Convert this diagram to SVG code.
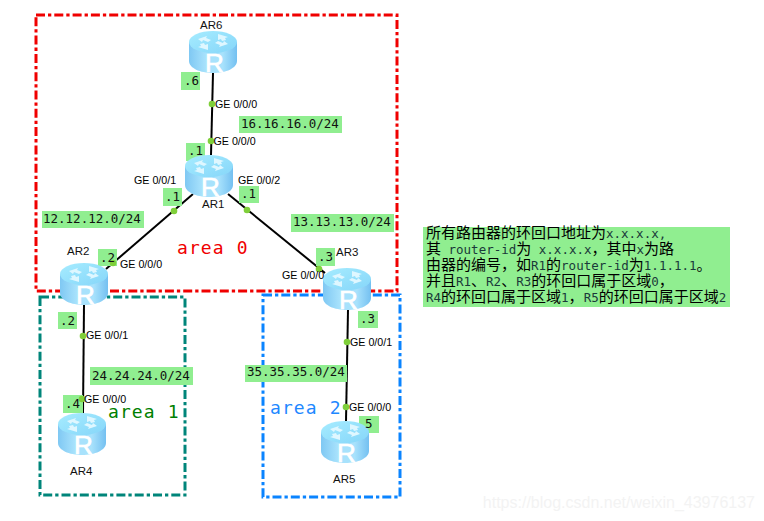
<svg xmlns="http://www.w3.org/2000/svg" width="764" height="521" viewBox="0 0 764 521">
<style>
.zone{fill:none;stroke-width:3;stroke-dasharray:9 3 3.300 3}
.link{stroke:#000;stroke-width:2;fill:none}
.dot{fill:#7fcf3a}
.tag{fill:#90ee90}
.ip{font:12.500px "DejaVu Sans Mono",monospace;fill:#111}
.port{font:10.700px "Liberation Sans",Arial,sans-serif;fill:#000}
.name{font:11.500px "Liberation Sans",Arial,sans-serif;fill:#111}
.r{font:26px "Liberation Sans",Arial,sans-serif;fill:#fff;stroke:#fff;stroke-width:.7;text-anchor:middle}
.area{font:18px "DejaVu Sans Mono",monospace;letter-spacing:1.100px}
.note{font:15px "Noto Sans CJK SC",sans-serif;fill:#000}
.note tspan{font:12.500px "DejaVu Sans Mono",monospace;fill:#1a3a3a;white-space:pre}
.wm{font:16px "Liberation Sans",Arial,sans-serif;fill:#f3f3f3;text-anchor:end}
</style>
<defs>
<linearGradient id="side" x1="0" x2="1" y1="0" y2="0">
<stop offset="0" stop-color="#7fc8f3"/><stop offset=".35" stop-color="#a8e2fc"/><stop offset=".7" stop-color="#a8e2fc"/><stop offset="1" stop-color="#74c0f1"/>
</linearGradient>
<linearGradient id="top" x1="0" x2="1" y1="0" y2="1">
<stop offset="0" stop-color="#a6ecff"/><stop offset="1" stop-color="#86d6f9"/>
</linearGradient>
<g id="router">
<path d="M0 11V30C0 37 11 42 24 42S48 37 48 30V11Z" fill="url(#side)"/>
<ellipse cx="24" cy="11" rx="24" ry="11" fill="url(#top)"/>
<path d="M9 8l9-3-1 2 5 2-3 2-5-2-1 2zM39 13l-9 3 1-2-5-2 3-2 5 2 1-2zM29 3l10 3-3 1 1 2-4 1-1-2-3 1zM19 19L9 16l3-1-1-2 4-1 1 2 3-1z" fill="#dff7ff"/>
</g>
</defs>

<g id="zones">
<rect class="zone" x="36" y="15" width="361" height="276" stroke="#f00000"/>
<rect class="zone" x="40" y="297" width="145" height="198" stroke="#00857a"/>
<rect class="zone" x="263" y="295" width="137" height="202" stroke="#0a84ff"/>
</g>

<g id="connectors">
<path class="link" d="M213 73L211 155"/>
<path class="link" d="M193 194L106 269"/>
<path class="link" d="M228 194L325 273"/>
<path class="link" d="M84 305L83 413"/>
<path class="link" d="M348 310L346 421"/>
</g>

<g id="tags">
<rect class="tag" x="181" y="72" width="19" height="18"/>
<rect class="tag" x="186" y="143" width="19" height="18"/>
<rect class="tag" x="163" y="188" width="19" height="18"/>
<rect class="tag" x="239" y="186" width="20" height="17"/>
<rect class="tag" x="98" y="249" width="19" height="17"/>
<rect class="tag" x="58" y="312" width="19" height="17"/>
<rect class="tag" x="63" y="395" width="20" height="18"/>
<rect class="tag" x="316" y="248" width="19" height="18"/>
<rect class="tag" x="358" y="311" width="20" height="17"/>
<rect class="tag" x="359" y="416" width="20" height="17"/>
</g>

<g id="AR6"><use href="#router" x="189" y="31"/><text class="r" x="214.500" y="72">R</text><text class="name" x="200" y="29">AR6</text></g>
<g id="AR1"><use href="#router" x="185" y="155"/><text class="r" x="210.500" y="196">R</text><text class="name" x="202" y="208">AR1</text></g>
<g id="AR2"><use href="#router" x="60" y="263"/><text class="r" x="85.500" y="304">R</text><text class="name" x="67" y="255">AR2</text></g>
<g id="AR3"><use href="#router" x="323" y="268"/><text class="r" x="348.500" y="309">R</text><text class="name" x="336" y="256">AR3</text></g>
<g id="AR4"><use href="#router" x="58" y="413"/><text class="r" x="83.500" y="454">R</text><text class="name" x="70" y="475">AR4</text></g>
<g id="AR5"><use href="#router" x="321" y="421"/><text class="r" x="346.500" y="462">R</text><text class="name" x="333" y="483">AR5</text></g>

<g id="dots">
<circle class="dot" cx="212" cy="104" r="3.300"/>
<circle class="dot" cx="211" cy="141" r="3.300"/>
<circle class="dot" cx="174" cy="211" r="3.300"/>
<circle class="dot" cx="247" cy="210" r="3.300"/>
<circle class="dot" cx="113" cy="263" r="3.300"/>
<circle class="dot" cx="83" cy="336" r="3.300"/>
<circle class="dot" cx="82" cy="399" r="3.300"/>
<circle class="dot" cx="319" cy="269" r="3.300"/>
<circle class="dot" cx="347" cy="342" r="3.300"/>
<circle class="dot" cx="346" cy="407" r="3.300"/>
</g>

<g id="labels">
<rect class="tag" x="239" y="116" width="103" height="17"/><text class="ip" x="241" y="128">16.16.16.0/24</text>
<rect class="tag" x="291" y="214" width="103" height="18"/><text class="ip" x="293" y="226">13.13.13.0/24</text>
<rect class="tag" x="42" y="211" width="102" height="17"/><text class="ip" x="43" y="223">12.12.12.0/24</text>
<rect class="tag" x="90" y="367" width="103" height="18"/><text class="ip" x="92" y="380">24.24.24.0/24</text>
<rect class="tag" x="245" y="365" width="102" height="17"/><text class="ip" x="247" y="376">35.35.35.0/24</text>
<text class="ip" x="184" y="85">.6</text>
<text class="ip" x="188" y="155">.1</text>
<text class="ip" x="165" y="201">.1</text>
<text class="ip" x="241" y="198">.1</text>
<text class="ip" x="100" y="262">.2</text>
<text class="ip" x="60" y="325">.2</text>
<text class="ip" x="65" y="408">.4</text>
<text class="ip" x="318" y="261">.3</text>
<text class="ip" x="360" y="323">.3</text>
<text class="ip" x="365" y="428">5</text>
<text class="port" x="215" y="108">GE 0/0/0</text>
<text class="port" x="213.500" y="145">GE 0/0/0</text>
<text class="port" x="134" y="184">GE 0/0/1</text>
<text class="port" x="238" y="184">GE 0/0/2</text>
<text class="port" x="120" y="268">GE 0/0/0</text>
<text class="port" x="86" y="339">GE 0/0/1</text>
<text class="port" x="84" y="403">GE 0/0/0</text>
<text class="port" x="282" y="279">GE 0/0/0</text>
<text class="port" x="350" y="346">GE 0/0/1</text>
<text class="port" x="349" y="411">GE 0/0/0</text>
<text class="area" x="177" y="254" fill="#f00000">area 0</text>
<text class="area" x="108" y="418" fill="#008000">area 1</text>
<text class="area" x="270" y="414" fill="#1e88ff">area 2</text>
</g>

<g id="note">
<rect class="tag" x="423" y="227" width="307" height="80"/>
<text class="note" x="426" y="238">所有路由器的环回口地址为<tspan>x.x.x.x,</tspan></text>
<text class="note" x="426" y="254">其<tspan> router-id</tspan>为<tspan> x.x.x.x</tspan>，其中<tspan>x</tspan>为路</text>
<text class="note" x="426" y="270">由器的编号，如<tspan>R1</tspan>的<tspan>router-id</tspan>为<tspan>1.1.1.1</tspan>。</text>
<text class="note" x="426" y="286">并且<tspan>R1</tspan>、<tspan>R2</tspan>、<tspan>R3</tspan>的环回口属于区域<tspan>0</tspan>，</text>
<text class="note" x="426" y="302"><tspan>R4</tspan>的环回口属于区域<tspan>1</tspan>，<tspan>R5</tspan>的环回口属于区域<tspan>2</tspan></text>
</g>

<text class="wm" x="755" y="508">https://blog.csdn.net/weixin_43976137</text>
</svg>
